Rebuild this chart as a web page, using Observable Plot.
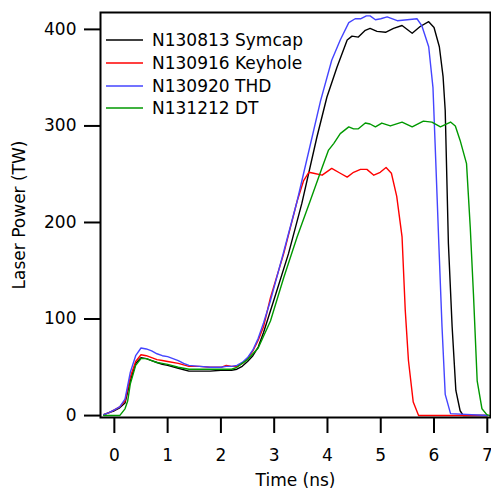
<!DOCTYPE html>
<html><head><meta charset="utf-8">
<script src="https://cdn.jsdelivr.net/npm/d3@7"></script>
<script src="https://cdn.jsdelivr.net/npm/@observablehq/plot@0.6"></script>
<style>
body{margin:0;background:#fff;}
#wrap{position:relative;width:491px;height:489px;font-family:"DejaVu Sans",sans-serif;}
#legend{position:absolute;left:106px;top:29px;font-size:17px;color:#000;}
.row{display:flex;align-items:center;height:22.7px;white-space:nowrap;}
.row svg{display:block;margin-right:9px;}
</style></head><body><div id="wrap"><div id="legend"></div></div>
<script>
const seriesNames = ["N130813 Symcap", "N130916 Keyhole", "N130920 THD", "N131212 DT"];
const seriesColors = ["#000000", "#ff0000", "#4444ff", "#009900"];
const xTicks = [0, 1, 2, 3, 4, 5, 6, 7];
const yTicks = [0, 100, 200, 300, 400];

const symcapT = [-0.2,-0.1,0,0.1,0.2,0.3,0.4,0.5,0.6,0.7,0.8,0.9,1.0,1.2,1.4,1.6,1.8,2.0,2.2,2.3,2.4,2.5,2.6,2.7,2.8,2.99,3.27,3.52,3.8,3.99,4.18,4.37,4.46,4.58,4.71,4.8,4.93,5.09,5.24,5.4,5.59,5.74,5.9,6.0,6.1,6.17,6.21,6.27,6.34,6.41,6.49,6.55,7.0];
const symcapP = [1,3,5,8,13,36,54,60,59,57,55,53,52,49,46,46,46,47,47,48,51,56,62,71,86,119,168,220,288,330,361,389,393,392,399,401,398,397,401,404,396,403,408,402,382,351,316,178,92,26,5,0,0];

const keyholeT = [-0.2,-0.1,0,0.1,0.2,0.3,0.4,0.5,0.6,0.7,0.8,0.9,1.0,1.2,1.4,1.6,1.8,2.0,2.1,2.2,2.3,2.4,2.5,2.6,2.7,2.8,2.93,3.18,3.43,3.55,3.65,3.74,3.9,4.08,4.24,4.37,4.49,4.62,4.74,4.87,4.99,5.1,5.2,5.3,5.4,5.46,5.52,5.61,5.71,7.0];
const keyholeP = [1,3,6,9,15,40,56,63,62,60,58,57,56,54,51,51,50,50,52,51,51,54,59,67,78,92,122,168,222,243,252,251,249,256,251,247,252,255,255,249,252,257,251,227,185,109,57,14,0,0];

const thdT = [-0.2,-0.1,0,0.1,0.2,0.3,0.4,0.5,0.6,0.7,0.8,0.9,1.0,1.1,1.2,1.3,1.4,1.6,1.8,2.0,2.1,2.2,2.3,2.4,2.5,2.6,2.7,2.8,2.93,3.18,3.43,3.68,3.87,4.08,4.24,4.4,4.52,4.62,4.73,4.8,4.9,5.0,5.12,5.31,5.5,5.68,5.77,5.9,5.98,6.02,6.06,6.09,6.15,6.21,6.31,7.0];
const thdP = [1,3,6,9,17,45,62,70,69,67,64,62,61,59,57,54,52,51,50,50,51,51,52,55,60,68,80,96,119,170,222,281,326,368,389,407,411,411,414,414,410,411,413,409,410,411,404,382,340,282,223,178,92,22,2,0];

const dtT = [-0.2,0.1,0.2,0.25,0.3,0.4,0.5,0.6,0.7,0.8,0.9,1.0,1.2,1.4,1.6,1.8,2.0,2.2,2.3,2.4,2.5,2.6,2.7,2.93,3.18,3.43,3.68,3.9,4.02,4.12,4.24,4.4,4.49,4.58,4.71,4.8,4.9,5.02,5.18,5.4,5.59,5.8,5.96,6.12,6.31,6.4,6.49,6.61,6.68,6.74,6.81,6.9,6.99,7.05];
const dtP = [0,0,7,15,33,52,59,59,57,55,54,53,50,48,48,48,48,48,50,54,58,64,70,98,143,185,223,257,275,282,292,299,297,297,303,302,299,303,300,304,299,305,304,299,304,300,285,261,195,126,36,7,1,0];

const seriesT = [symcapT, keyholeT, thdT, dtT];
const seriesP = [symcapP, keyholeP, thdP, dtP];

const lineMarks = seriesNames.map((name, i) => {
  const data = seriesT[i].map((t, j) => ({t, p: seriesP[i][j]}));
  return Plot.line(data, {x: "t", y: "p", stroke: seriesColors[i], strokeWidth: 1.4});
});

const chart = Plot.plot({
  width: 491, height: 489,
  marginLeft: 100, marginRight: 1, marginTop: 12, marginBottom: 72,
  style: {fontFamily: "DejaVu Sans", fontSize: "17px", background: "white", color: "black"},
  x: {domain: [-0.26, 7.06]},
  y: {domain: [-2, 417.5]},
  marks: [
    Plot.axisX({ticks: xTicks, tickSize: 16, tickPadding: 15, strokeWidth: 2, tickFormat: d => String(d),
      label: "Time (ns)", labelAnchor: "center", labelArrow: "none", labelOffset: 68}),
    Plot.axisY({ticks: yTicks, tickSize: 16, tickPadding: 8, strokeWidth: 2, tickFormat: d => String(d),
      label: "Laser Power (TW)", labelAnchor: "center", labelArrow: "none", labelOffset: 88}),
    ...lineMarks,
    Plot.frame({strokeWidth: 2})
  ]
});
const wrap = document.getElementById("wrap");
wrap.insertBefore(chart, wrap.firstChild);

const legend = document.getElementById("legend");
const NS = "http://www.w3.org/2000/svg";
seriesNames.forEach((name, i) => {
  const row = document.createElement("div");
  row.className = "row";
  const sw = document.createElementNS(NS, "svg");
  sw.setAttribute("width", "37");
  sw.setAttribute("height", "4");
  const ln = document.createElementNS(NS, "line");
  ln.setAttribute("x1", "0"); ln.setAttribute("x2", "37");
  ln.setAttribute("y1", "2"); ln.setAttribute("y2", "2");
  ln.setAttribute("stroke", seriesColors[i]);
  ln.setAttribute("stroke-width", "1.6");
  sw.appendChild(ln);
  const tx = document.createElement("span");
  tx.textContent = name;
  row.appendChild(sw); row.appendChild(tx);
  legend.appendChild(row);
});
</script></body></html>
